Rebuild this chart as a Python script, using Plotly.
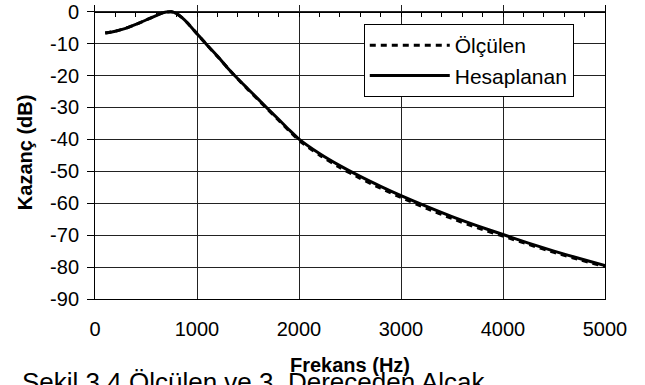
import plotly.graph_objects as go

# Frequencies (Hz)
freq = [100, 200, 300, 400, 500, 600, 650, 700, 750, 800, 850, 900, 1000, 1100, 1200,
        1300, 1400, 1500, 1600, 1700, 1800, 1900, 2000, 2200, 2400, 2600, 2800, 3000,
        3250, 3500, 3750, 4000, 4250, 4500, 4750, 5000]

# Measured gain (dB)
olculen = [-6.7, -6.1, -5.2, -4.0, -2.6, -1.2, -0.5, -0.1, 0.0, -0.6, -1.8, -3.3,
           -6.9, -10.5, -14.0, -17.6, -21.1, -24.4, -27.6, -30.8, -34.0, -37.2, -40.3,
           -44.9, -48.8, -52.2, -55.3, -58.2, -61.6, -64.8, -67.7, -70.3, -72.9, -75.4,
           -77.7, -79.8]

# Computed gain (dB)
hesaplanan = [-6.7, -6.1, -5.2, -4.0, -2.6, -1.2, -0.5, -0.1, 0.0, -0.6, -1.8, -3.3,
              -6.9, -10.5, -13.9, -17.6, -21.0, -24.2, -27.4, -30.6, -33.7, -36.9, -39.9,
              -44.4, -48.2, -51.6, -54.7, -57.6, -61.0, -64.2, -67.1, -69.8, -72.5, -75.0,
              -77.3, -79.5]

x_ticks = [0, 1000, 2000, 3000, 4000, 5000]
y_ticks = [0, -10, -20, -30, -40, -50, -60, -70, -80, -90]

FONT = "Liberation Sans, Arial, sans-serif"
Y_MIN, Y_MAX = -90, 2.1

fig = go.Figure()
fig.add_trace(go.Scatter(x=freq, y=olculen, mode="lines", name="Ölçülen",
                         line=dict(color="black", width=3, dash="6px,5px",
                                   shape="spline", smoothing=0.6)))
fig.add_trace(go.Scatter(x=freq, y=hesaplanan, mode="lines", name="Hesaplanan",
                         line=dict(color="black", width=3, shape="spline", smoothing=0.6)))
# helper trace for the top (y=0) axis with minor ticks
fig.add_trace(go.Scatter(x=freq, y=hesaplanan, mode="lines", xaxis="x2",
                         line=dict(width=0), opacity=0, showlegend=False,
                         hoverinfo="skip"))

fig.update_layout(
    width=645, height=385,
    margin=dict(l=95, r=40, t=5, b=86, autoexpand=False),
    paper_bgcolor="white", plot_bgcolor="white",
    font=dict(family=FONT, size=20, color="black"),
    showlegend=True,
    legend=dict(x=0.527, y=0.935, xanchor="left", yanchor="top",
                bgcolor="white", bordercolor="black", borderwidth=1,
                font=dict(family=FONT, size=21, color="black"),
                itemwidth=80),
    xaxis=dict(range=[0, 5000], tickvals=x_ticks, ticktext=[str(v) for v in x_ticks],
               showgrid=True, gridcolor="#222", gridwidth=1, automargin=False,
               showline=True, linecolor="black", linewidth=1, mirror=False,
               ticks="", zeroline=False, ticklabelstandoff=12,
               ticklabeloverflow="allow",
               tickfont=dict(family=FONT, size=20, color="black")),
    xaxis2=dict(range=[0, 5000], overlaying="x", anchor="free", side="top",
                position=(0 - Y_MIN) / (Y_MAX - Y_MIN), automargin=False,
                showline=True, linecolor="black", linewidth=1,
                ticks="inside", dtick=200, ticklen=4, tickcolor="black",
                showticklabels=False, showgrid=False, zeroline=False),
    yaxis=dict(range=[Y_MIN, Y_MAX], tickvals=y_ticks, ticktext=[str(v) for v in y_ticks],
               showgrid=True, gridcolor="#222", gridwidth=1, automargin=False,
               showline=True, linecolor="black", linewidth=1, mirror=True,
               ticks="outside", ticklen=7, tickcolor="black", zeroline=False,
               ticklabelstandoff=4, ticklabeloverflow="allow",
               tickfont=dict(family=FONT, size=20, color="black")),
    annotations=[
        dict(text="<b>Frekans (Hz)</b>", xref="paper", yref="paper", x=0.5, y=-0.2245,
             xanchor="center", yanchor="middle", showarrow=False,
             font=dict(family=FONT, size=20, color="black")),
        dict(text="<b>Kazanç (dB)</b>", xref="paper", yref="paper", x=-0.137, y=0.5,
             xanchor="center", yanchor="middle", textangle=-90, showarrow=False,
             font=dict(family=FONT, size=20, color="black")),
        dict(text="Şekil 3.4 Ölçülen ve 3. Dereceden Alçak",
             xref="paper", yref="paper", x=-0.147, y=-0.2245,
             xanchor="left", yanchor="top", showarrow=False,
             font=dict(family=FONT, size=26, color="black")),
    ],
)

fig.write_html("out.html", config={"displayModeBar": False},
               post_script="document.body.style.margin='0px';")
